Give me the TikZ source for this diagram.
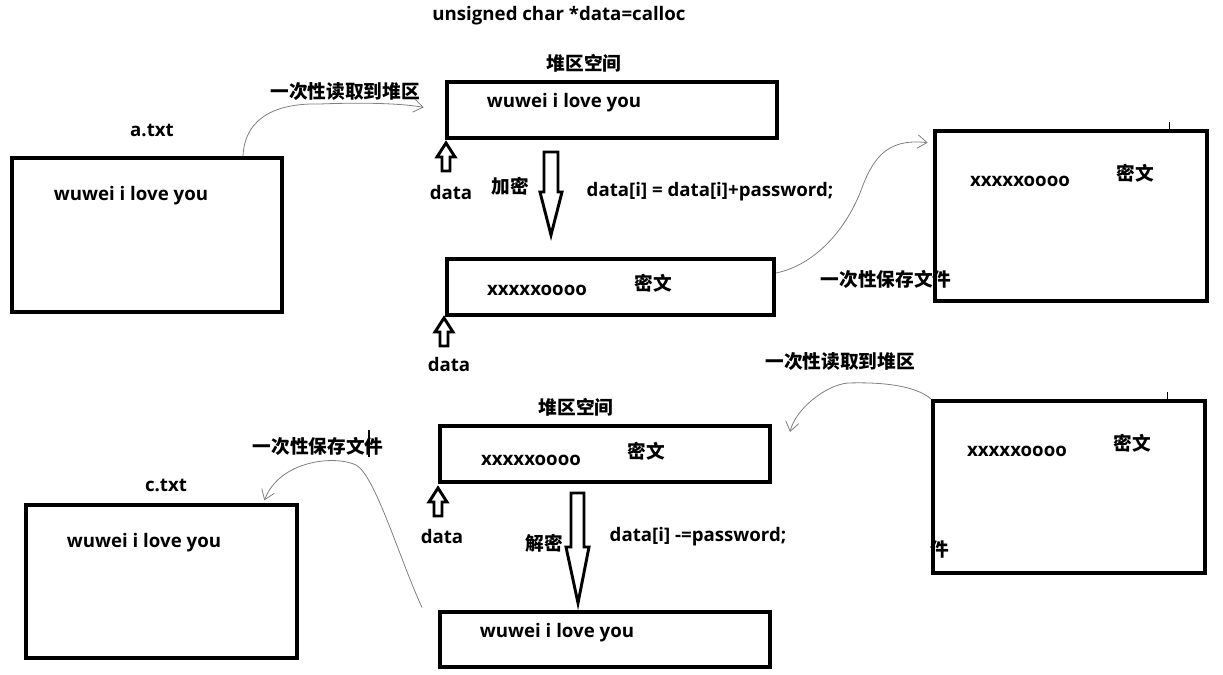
\documentclass[tikz,border=0pt]{standalone}
\usepackage{fontspec}
\setmainfont{Open Sans}
\newfontfamily\cjk{Noto Sans CJK SC}
\usepackage{tikz}
\usetikzlibrary{arrows.meta}

\begin{document}
\begin{tikzpicture}[x=0.75pt, y=-0.75pt,
      every node/.style={font=\bfseries\fontsize{14}{16}\selectfont},
      box/.style={draw, line width=3pt, inner sep=0pt},
      blockarr/.style={draw, line width=2.2pt, line join=miter, fill=white},
      link/.style={gray, line width=0.6pt, -{Straight Barb[length=7pt, width=10pt]}}]
      \path[use as bounding box, fill=white] (0,0) rectangle (1223,674);
      % boxes
      \node[box, minimum width=202.5pt, minimum height=115.5pt] (atxt) at (147,235) {};
      \node[box, minimum width=247.5pt, minimum height=42pt] (heapA) at (612,110) {};
      \node[box, minimum width=245.25pt, minimum height=42pt] (cipherA) at (610.5,287) {};
      \node[box, minimum width=204pt, minimum height=128pt] (fileB) at (1071,216) {};
      \node[box, minimum width=204pt, minimum height=129pt] (fileB2) at (1069,487) {};
      \node[box, minimum width=247.5pt, minimum height=42pt] (heapB) at (605,454) {};
      \node[box, minimum width=247.5pt, minimum height=41.25pt] (plainB) at (605,639.5) {};
      \node[box, minimum width=203.25pt, minimum height=114.75pt] (ctxt) at (161.5,581.5) {};
      \draw[thin] ([xshift=-30pt]fileB.north east) -- ++(0,-7);
      \draw[thin] ([xshift=-30pt]fileB2.north east) -- ++(0,-7);
      % texts
      \node (calloc) at (559,16) {unsigned char *data=calloc};
      \node (atxtlbl) at (152,130) {a.txt};
      \node (atxtval) at (131,196) {wuwei i love you};
      \node (readAlbl) at (345,92) {\cjk 一次性读取到堆区};
      \node (heapAlbl) at (584,63) {\cjk 堆区空间};
      \node (heapAval) at (564,103) {wuwei i love you};
      \node (dataA) at (451,192) {data};
      \node (encA) at (510,186) {\cjk 加密};
      \node (encfml) at (710,192) {data[i] = data[i]+password;};
      \node (cipherAval) at (537,290) {xxxxxoooo};
      \node (cipherAmw) at (653,283) {\cjk 密文};
      \node (dataB) at (449,364) {data};
      \node (saveAlbl) at (886,279) {\cjk 一次性保存文件};
      \node (fileBval) at (1020,181) {xxxxxoooo};
      \node (fileBmw) at (1135,173) {\cjk 密文};
      \node (readBlbl) at (840,362) {\cjk 一次性读取到堆区};
      \node (fileB2val) at (1017,451) {xxxxxoooo};
      \node (fileB2mw) at (1132,443) {\cjk 密文};
      \node (stray) at (940,549) {\cjk 件};
      \node (heapBlbl) at (576,407) {\cjk 堆区空间};
      \node (heapBval) at (531,460) {xxxxxoooo};
      \node (heapBmw) at (646,451) {\cjk 密文};
      \node (dataC) at (442,536) {data};
      \node (decB) at (544,543) {\cjk 解密};
      \node (decfml) at (698,537) {data[i] -=password;};
      \node (plainBval) at (557,633) {wuwei i love you};
      \node (ctxtlbl) at (166,485) {c.txt};
      \node (ctxtval) at (144,543) {wuwei i love you};
      \node (saveBlbl) at (318,446) {\cjk 一次性保存文件};
      \draw[line width=2.2pt] (369,430) -- (369,457);
      % block arrows
      \foreach \x/\y in {446/143, 444/318, 438/488}
            \draw[blockarr] (\x,\y) -- ++(9,14) -- ++(-5,0) -- ++(0,14) -- ++(-8,0) -- ++(0,-14) -- ++(-5,0) -- cycle;
      \draw[blockarr] (544,152) -- (558,152) -- (558,192) -- (562,192) -- (551,235)
                      -- (540,192) -- (544,192) -- cycle;
      \draw[blockarr] (571,493) -- (584,493) -- (584,547) -- (589,547) -- (578,603)
                      -- (566,547) -- (571,547) -- cycle;
      % freehand links
      \draw[link] ([xshift=72pt]atxt.north) .. controls (245,115) and (280,103) .. (320,104)
                  .. controls (370,102) and (405,104) .. ([xshift=-16pt,yshift=2pt]heapA.west);
      \draw[link] ([yshift=10.5pt]cipherA.east) .. controls (815,265) and (845,230) .. (860,193)
                  .. controls (872,160) and (885,138) .. ([xshift=-4pt,yshift=55pt]fileB.west);
      \draw[link] (fileB2.north west) .. controls (915,385) and (880,382) .. (848,383)
                  .. controls (825,385) and (795,410) .. ([xshift=13.5pt,yshift=16.5pt]heapB.east);
      \draw[link] ([xshift=-12pt,yshift=24pt]plainB.west) .. controls (400,560) and (375,475) .. (356,465)
                  .. controls (335,455) and (280,460) .. ([xshift=-26pt,yshift=2pt]ctxt.north east);
\end{tikzpicture}
\end{document}
